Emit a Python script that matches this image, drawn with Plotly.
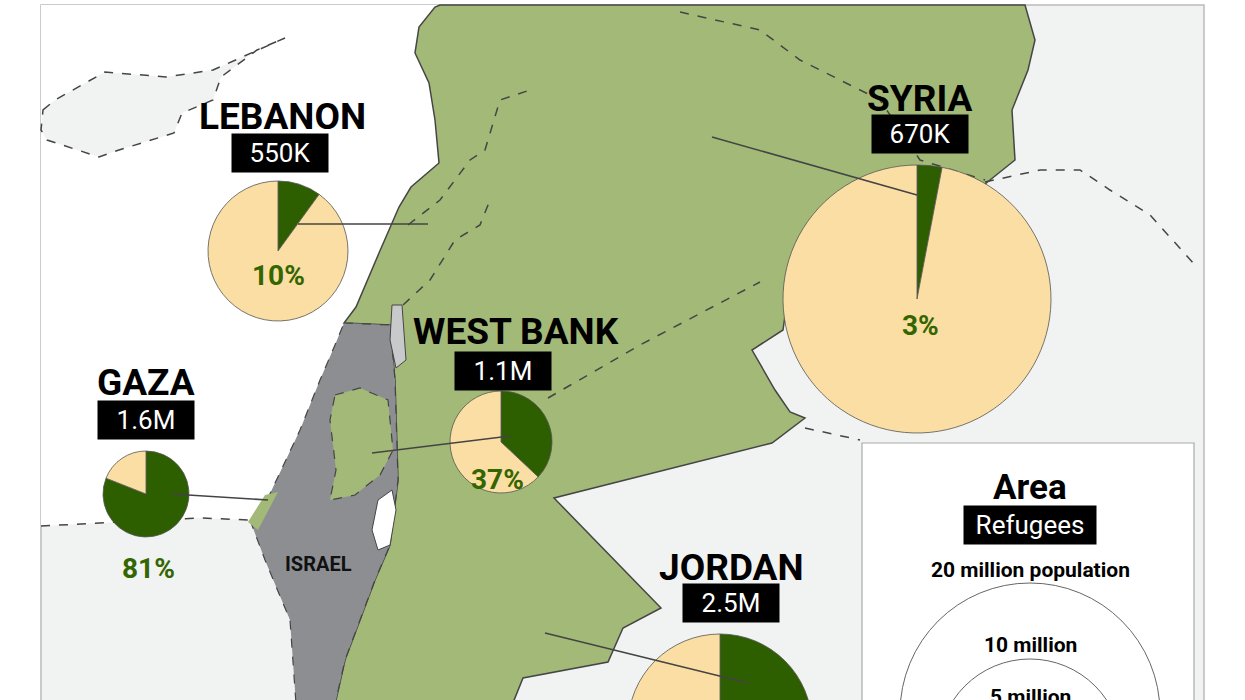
import plotly.graph_objects as go

W, H = 1245, 900
countries = ["LEBANON", "SYRIA", "WEST BANK", "GAZA", "JORDAN"]
refugees_lbl = ["550K", "670K", "1.1M", "1.6M", "2.5M"]
refugee_share = [10, 3, 37, 81, 25]
pie_cx = [278, 917, 501, 146, 720]
pie_cy = [251, 299, 442, 494, 726]
pie_d = [140, 268, 102, 86, 184]
title_xy = [(282, 116), (920, 98), (516, 331), (146, 382), (731, 567)]
box_xy = [(280, 153), (920, 134), (503, 371), (146, 420), (731, 603)]
pct_xy = [(278, 275), (920, 325), (497, 479), (148, 568), None]
leaders = [((298, 224), (428, 224)), ((712, 137), (917, 195)), ((372, 453), (510, 436)),
           ((172, 494), (268, 500)), ((545, 633), (748, 683))]
legend_labels = ["20 million population", "10 million", "5 million"]
legend_d = [260, 184, 130]
legend_label_y = [570, 645, 697]

GREEN_LAND = "#a3b978"; GRAY_LAND = "#f1f2f2"; ISRAEL = "#8c8e91"
DARK = "#2d5e00"; TAN = "#fbdea3"; LINE = "#454545"

def path(pts, close=True):
    s = "M " + " L ".join(f"{x},{y}" for x, y in pts)
    return s + (" Z" if close else "")

shapes = []
shapes.append(dict(type="rect", x0=41, y0=5, x1=1204, y1=900, fillcolor=GRAY_LAND,
                   line=dict(color="#bbbbbb", width=1.5), layer="below"))
coast = [(435, 7), (419, 27), (415, 53), (429, 83), (435, 120), (439, 163), (411, 187),
         (399, 207), (379, 253), (356, 307), (344, 323)]
israel_coast = [(335, 345), (320, 380), (300, 430), (268, 498), (250, 520)]
sea = [(41, 5), (440, 5)] + coast + israel_coast + [(200, 518), (120, 522), (41, 526)]
shapes.append(dict(type="path", path=path(sea), fillcolor="white", line=dict(width=0), layer="below"))
cyprus = [(43, 110), (55, 100), (105, 72), (166, 77), (213, 70), (285, 38), (257, 50), (221, 77),
          (213, 100), (182, 113), (174, 133), (119, 150), (99, 157), (47, 140), (41, 130)]
shapes.append(dict(type="path", path=path(cyprus), fillcolor=GRAY_LAND,
                   line=dict(color=LINE, width=1.5, dash="dash"), layer="below"))
shapes.append(dict(type="path", path=path([(41, 526), (120, 522), (200, 518), (250, 520)], False),
                   line=dict(color=LINE, width=1.5, dash="dash"), layer="below"))
jordan_river = [(390, 325), (395, 380), (398, 480), (390, 545), (375, 580), (360, 620), (345, 660), (336, 700), (325, 760)]
green = [(440, 5), (1025, 5), (1035, 40), (1028, 70), (1012, 110), (1015, 160), (990, 180),
         (960, 205), (900, 240), (790, 280), (783, 330), (752, 350), (775, 390), (790, 412),
         (805, 418), (772, 443), (554, 498), (661, 608), (623, 628), (608, 662), (523, 678),
         (490, 760)] + jordan_river[::-1] + [(344, 323)] + coast[::-1]
shapes.append(dict(type="path", path=path(green), fillcolor=GREEN_LAND,
                   line=dict(color=LINE, width=1.5), layer="below"))
israel = [(344, 323)] + jordan_river + [(300, 760), (290, 620), (265, 560), (250, 520), (268, 498),
                                        (300, 430), (320, 380), (335, 345)]
shapes.append(dict(type="path", path=path(israel), fillcolor=ISRAEL,
                   line=dict(color=LINE, width=1.2, dash="dash"), layer="below"))
gaza = [(248, 522), (265, 495), (278, 492), (258, 530)]
shapes.append(dict(type="path", path=path(gaza), fillcolor=GREEN_LAND, line=dict(width=0), layer="below"))
wb = [(335, 395), (360, 388), (388, 400), (393, 450), (380, 475), (355, 495), (330, 500),
      (336, 470), (330, 420)]
shapes.append(dict(type="path", path=path(wb), fillcolor=GREEN_LAND,
                   line=dict(color=LINE, width=1.2, dash="dash"), layer="below"))
dead = [(378, 500), (392, 490), (396, 510), (390, 545), (378, 550), (372, 530)]
shapes.append(dict(type="path", path=path(dead), fillcolor="white", line=dict(color=LINE, width=1), layer="below"))
golan = [(392, 305), (402, 305), (406, 360), (396, 368), (390, 340)]
shapes.append(dict(type="path", path=path(golan), fillcolor="#c8c9ca", line=dict(color=LINE, width=1), layer="below"))
for pts in [[(408, 225), (440, 200), (470, 160), (485, 150), (500, 100), (530, 90)],
            [(403, 305), (430, 280), (455, 240), (480, 225), (490, 200)],
            [(548, 398), (640, 345), (760, 282)],
            [(805, 428), (860, 440)],
            [(680, 12), (760, 30), (800, 60), (880, 100), (920, 160), (985, 180)],
            [(985, 182), (1040, 170), (1080, 170), (1110, 190), (1150, 215), (1195, 265)]]:
    shapes.append(dict(type="path", path=path(pts, False), line=dict(color=LINE, width=1.5, dash="dash"), layer="below"))
for (a, b) in leaders:
    shapes.append(dict(type="line", x0=a[0], y0=a[1], x1=b[0], y1=b[1], line=dict(color="#444", width=1.6)))
shapes.append(dict(type="rect", x0=862, y0=443, x1=1194, y1=900, fillcolor="white",
                   line=dict(color="#aaaaaa", width=1.2)))
for d in legend_d:
    shapes.append(dict(type="circle", x0=1030 - d / 2, x1=1030 + d / 2, y0=843 - d, y1=843,
                       line=dict(color="#666", width=1)))

fig = go.Figure()
for i, c in enumerate(countries):
    r = pie_d[i] / 2
    fig.add_trace(go.Pie(values=[refugee_share[i], 100 - refugee_share[i]], labels=["Refugees", "Other"],
                         sort=False, direction="clockwise", rotation=0, textinfo="none", hoverinfo="skip",
                         marker=dict(colors=[DARK, TAN], line=dict(color="#555", width=0.8)),
                         domain=dict(x=[(pie_cx[i] - r) / W, (pie_cx[i] + r) / W],
                                     y=[1 - (pie_cy[i] + r) / H, 1 - (pie_cy[i] - r) / H]),
                         showlegend=False))

ann = []
F = "Roboto"
for i, c in enumerate(countries):
    ann.append(dict(x=title_xy[i][0], y=title_xy[i][1], text=f"<b>{c}</b>", font=dict(family=F, size=37, color="black")))
    ann.append(dict(x=box_xy[i][0], y=box_xy[i][1], text=refugees_lbl[i], bgcolor="black", borderpad=4,
                    width=88, font=dict(family=F, size=26, color="white")))
    if pct_xy[i]:
        ann.append(dict(x=pct_xy[i][0], y=pct_xy[i][1], text=f"<b>{refugee_share[i]}%</b>",
                        font=dict(family=F, size=28, color="#336600")))
ann.append(dict(x=318, y=564, text="<b>ISRAEL</b>", font=dict(family=F, size=20, color="#111")))
ann.append(dict(x=1030, y=487, text="<b>Area</b>", font=dict(family=F, size=35, color="black")))
ann.append(dict(x=1030, y=525, text="Refugees", bgcolor="black", borderpad=4, width=124,
                font=dict(family=F, size=26, color="white")))
for t, y in zip(legend_labels, legend_label_y):
    ann.append(dict(x=1030, y=y, text=f"<b>{t}</b>", font=dict(family=F, size=21, color="black")))
for a in ann:
    a.update(xref="x", yref="y", showarrow=False)

fig.update_layout(width=W, height=H, margin=dict(l=0, r=0, t=0, b=0), paper_bgcolor="white",
                  plot_bgcolor="white", shapes=shapes, annotations=ann,
                  xaxis=dict(range=[0, W], visible=False, fixedrange=True),
                  yaxis=dict(range=[H, 0], visible=False, fixedrange=True))
fig.write_html("out.html", config={"displayModeBar": False},
               post_script="document.body.style.overflow='hidden';document.body.style.margin='0';")
